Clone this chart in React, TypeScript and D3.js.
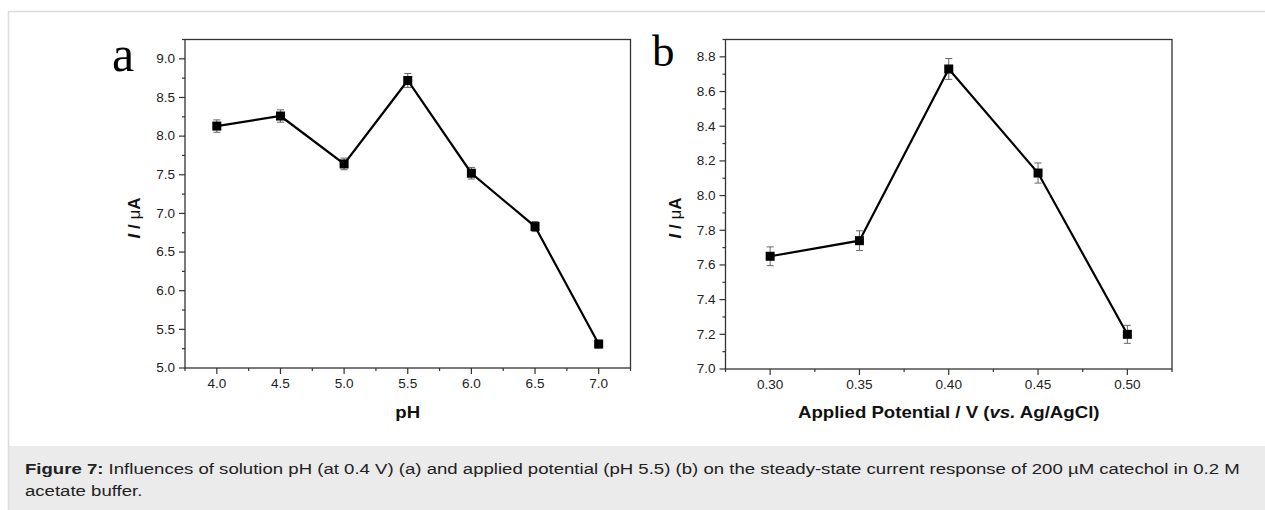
import React from 'react';
import * as d3 from 'd3';

// panel a: current vs pH (at 0.4 V)
const phValues = [4.0, 4.5, 5.0, 5.5, 6.0, 6.5, 7.0];
const phCurrent = [8.13, 8.26, 7.64, 8.72, 7.52, 6.83, 5.31];
const phError = [0.08, 0.08, 0.075, 0.09, 0.075, 0.065, 0.05];
const phTicksX = [4.0, 4.5, 5.0, 5.5, 6.0, 6.5, 7.0];
const phTicksY = [5.0, 5.5, 6.0, 6.5, 7.0, 7.5, 8.0, 8.5, 9.0];

// panel b: current vs applied potential (pH 5.5)
const potValues = [0.3, 0.35, 0.4, 0.45, 0.5];
const potCurrent = [7.65, 7.74, 8.73, 8.13, 7.2];
const potError = [0.054, 0.057, 0.06, 0.058, 0.052];
const potTicksX = [0.3, 0.35, 0.4, 0.45, 0.5];
const potTicksY = [7.0, 7.2, 7.4, 7.6, 7.8, 8.0, 8.2, 8.4, 8.6, 8.8];

const captionLine1 =
  ' Influences of solution pH (at 0.4 V) (a) and applied potential (pH 5.5) (b) on the steady-state current response of 200 µM catechol in 0.2 M';
const captionLine2 = 'acetate buffer.';

const sans = '"Liberation Sans", Arial, sans-serif';
const serif = '"Liberation Serif", "Times New Roman", serif';
const stretch = 1.13; // figure text looks widened a bit
const captionStretch = 1.24;

type PanelProps = {
  left: number;
  right: number;
  top: number;
  bottom: number;
  xDomain: [number, number];
  yDomain: [number, number];
  xs: number[];
  ys: number[];
  errs: number[];
  xTicks: number[];
  yTicks: number[];
  xFmt: (v: number) => string;
  yFmt: (v: number) => string;
  letter: string;
  letterX: number;
  letterY: number;
  letterSize: number;
  xLabel: React.ReactNode;
};

const Panel = (p: PanelProps) => {
  const x = d3.scaleLinear().domain(p.xDomain).range([p.left, p.right]);
  const y = d3.scaleLinear().domain(p.yDomain).range([p.bottom, p.top]);

  const xStep = p.xTicks[1] - p.xTicks[0];
  const yStep = p.yTicks[1] - p.yTicks[0];
  const xMinor = d3
    .range(p.xTicks[0] - xStep / 2, p.xDomain[1] + 1e-9, xStep / 2)
    .filter(v => v >= p.xDomain[0] - 1e-9 && !p.xTicks.some(t => Math.abs(t - v) < 1e-9));
  const yMinor = d3
    .range(p.yTicks[0] - yStep / 2, p.yDomain[1] + 1e-9, yStep / 2)
    .filter(v => v >= p.yDomain[0] - 1e-9 && !p.yTicks.some(t => Math.abs(t - v) < 1e-9));

  const line = d3
    .line<number>()
    .x((_, i) => x(p.xs[i]))
    .y(d => y(d));

  const axisColor = '#333';
  const midX = (p.left + p.right) / 2;

  return (
    <g>
      {/* frame */}
      <rect
        x={p.left}
        y={p.top}
        width={p.right - p.left}
        height={p.bottom - p.top}
        fill="none"
        stroke={axisColor}
        strokeWidth={1.3}
      />
      {/* x ticks */}
      {p.xTicks.map(t => (
        <g key={'xt' + t}>
          <line x1={x(t)} x2={x(t)} y1={p.bottom} y2={p.bottom + 6} stroke={axisColor} strokeWidth={1.2} />
          <text
            transform={`translate(${x(t)},${p.bottom + 20}) scale(${stretch},1)`}
            textAnchor="middle"
            fontFamily={sans}
            fontSize={12}
            fill="#222"
          >
            {p.xFmt(t)}
          </text>
        </g>
      ))}
      {xMinor.map(t => (
        <line key={'xm' + t} x1={x(t)} x2={x(t)} y1={p.bottom} y2={p.bottom + 3} stroke={axisColor} strokeWidth={1.2} />
      ))}
      {/* y ticks */}
      {p.yTicks.map(t => (
        <g key={'yt' + t}>
          <line x1={p.left - 6} x2={p.left} y1={y(t)} y2={y(t)} stroke={axisColor} strokeWidth={1.2} />
          <text
            transform={`translate(${p.left - 10},${y(t) + 4.3}) scale(${stretch},1)`}
            textAnchor="end"
            fontFamily={sans}
            fontSize={12}
            fill="#222"
          >
            {p.yFmt(t)}
          </text>
        </g>
      ))}
      {yMinor.map(t => (
        <line key={'ym' + t} x1={p.left - 3} x2={p.left} y1={y(t)} y2={y(t)} stroke={axisColor} strokeWidth={1.2} />
      ))}

      {/* error bars */}
      {p.ys.map((v, i) => {
        const cx = x(p.xs[i]);
        const y1 = y(v + p.errs[i]);
        const y2 = y(v - p.errs[i]);
        return (
          <g key={'e' + i} stroke="#666" strokeWidth={1}>
            <line x1={cx} x2={cx} y1={y1} y2={y2} />
            <line x1={cx - 3.5} x2={cx + 3.5} y1={y1} y2={y1} />
            <line x1={cx - 3.5} x2={cx + 3.5} y1={y2} y2={y2} />
          </g>
        );
      })}
      <path d={line(p.ys) || ''} fill="none" stroke="#000" strokeWidth={2.2} />
      {p.ys.map((v, i) => (
        <rect key={'m' + i} x={x(p.xs[i]) - 4.5} y={y(v) - 4.5} width={9} height={9} fill="#000" />
      ))}

      {/* labels */}
      <text x={p.letterX} y={p.letterY} fontFamily={serif} fontSize={p.letterSize} fill="#000">
        {p.letter}
      </text>
      <text
        transform={`translate(${p.left - 45},218) rotate(-90)`}
        textAnchor="middle"
        fontFamily={sans}
        fontSize={17}
        fontWeight="bold"
        fill="#111"
      >
        <tspan fontStyle="italic">I</tspan>
        <tspan> / </tspan>
        <tspan fontWeight="normal">μ</tspan>
        <tspan>A</tspan>
      </text>
      <text
        transform={`translate(${midX},418) scale(${stretch},1)`}
        textAnchor="middle"
        fontFamily={sans}
        fontSize={16.5}
        fontWeight="bold"
        fill="#111"
      >
        {p.xLabel}
      </text>
    </g>
  );
};

const App = () => {
  return (
    <div style={{ position: 'absolute', left: 0, top: 0 }}>
      <svg width={1265} height={510} style={{ display: 'block' }}>
        <rect x={0} y={0} width={1265} height={510} fill="#fff" />
        <rect x={9} y={446} width={1256} height={64} fill="#ebebeb" />
        <rect x={8.5} y={11.5} width={1300} height={520} fill="none" stroke="#dcdcdc" strokeWidth={1.5} />

        <Panel
          left={185}
          right={630.5}
          top={39.5}
          bottom={368}
          xDomain={[3.75, 7.25]}
          yDomain={[5.0, 9.25]}
          xs={phValues}
          ys={phCurrent}
          errs={phError}
          xTicks={phTicksX}
          yTicks={phTicksY}
          xFmt={d3.format('.1f')}
          yFmt={d3.format('.1f')}
          letter="a"
          letterX={112}
          letterY={71}
          letterSize={50}
          xLabel="pH"
        />
        <Panel
          left={725.5}
          right={1172}
          top={39.5}
          bottom={369}
          xDomain={[0.275, 0.525]}
          yDomain={[7.0, 8.9]}
          xs={potValues}
          ys={potCurrent}
          errs={potError}
          xTicks={potTicksX}
          yTicks={potTicksY}
          xFmt={d3.format('.2f')}
          yFmt={d3.format('.1f')}
          letter="b"
          letterX={652}
          letterY={66}
          letterSize={45}
          xLabel={
            <>
              <tspan>Applied Potential / V (</tspan>
              <tspan fontStyle="italic">vs.</tspan>
              <tspan> Ag/AgCl)</tspan>
            </>
          }
        />

        <text
          transform={`translate(25,474) scale(${captionStretch},1)`}
          fontFamily={sans}
          fontSize={15}
          fill="#222"
        >
          <tspan fontWeight="bold">Figure 7:</tspan>
          <tspan>{captionLine1}</tspan>
        </text>
        <text
          transform={`translate(25,496) scale(${captionStretch},1)`}
          fontFamily={sans}
          fontSize={15}
          fill="#222"
        >
          {captionLine2}
        </text>
      </svg>
    </div>
  );
};

export default App;
